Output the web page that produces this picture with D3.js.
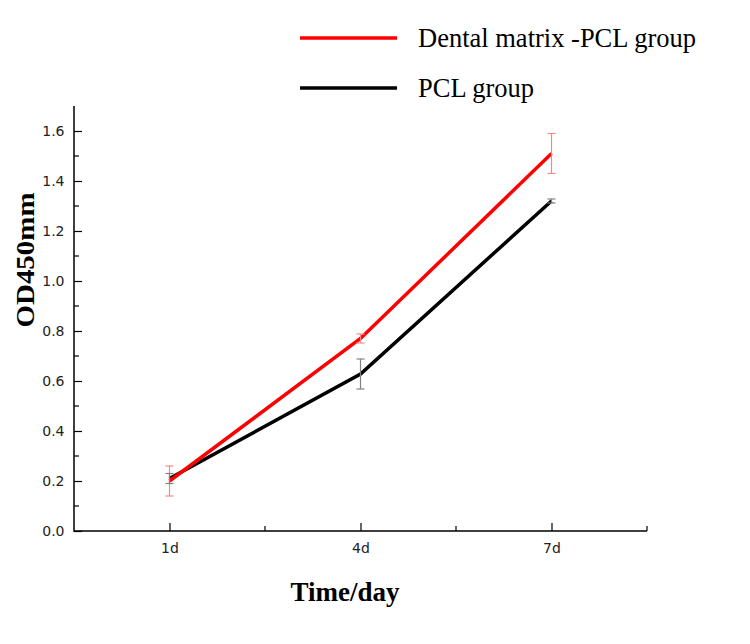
<!DOCTYPE html>
<html>
<head>
<meta charset="utf-8">
<script src="https://cdn.jsdelivr.net/npm/d3@7"></script>
<style>
body { margin: 0; background: #fff; }
</style>
</head>
<body>
<div id="chart"></div>
<script>
// data
var days = ["1d", "4d", "7d"];
var seriesNames = ["Dental matrix -PCL group", "PCL group"];
var dentalMean = [0.20, 0.77, 1.51];
var dentalErr = [0.06, 0.018, 0.08];
var pclMean = [0.21, 0.628, 1.32];
var pclErr = [0.02, 0.06, 0.008];
var yTicks = [0, 0.2, 0.4, 0.6, 0.8, 1.0, 1.2, 1.4, 1.6];

var w = 750, h = 644;
var svg = d3.select('#chart').append('svg')
	.attr('width', w)
	.attr('height', h);

// x as index, half a step padding on each side
var x = d3.scaleLinear().domain([-0.5, 2.5]).range([74, 647]);
var y = d3.scaleLinear().domain([0, 1.7]).range([531, 106]);

var series = [
	{name: seriesNames[0], mean: dentalMean, err: dentalErr, color: '#ff0000', errColor: '#f08a8a'},
	{name: seriesNames[1], mean: pclMean, err: pclErr, color: '#000000', errColor: '#808080'}
];

// minor ticks
var g = svg.append('g');
d3.range(0, 17).forEach(function(i){
	if (i % 2 == 0) return;
	var v = i / 10;
	g.append('line')
		.attr('x1', x(-0.5)).attr('x2', x(-0.5) + 5)
		.attr('y1', y(v)).attr('y2', y(v))
		.attr('stroke', '#000').attr('stroke-width', 1.2);
});
[0.5, 1.5, 2.5].forEach(function(v){
	g.append('line')
		.attr('x1', x(v)).attr('x2', x(v))
		.attr('y1', y(0)).attr('y2', y(0) - 5)
		.attr('stroke', '#000').attr('stroke-width', 1.2);
});

// y axis, ticks pointing inward
var yAxis = svg.append('g')
	.attr('transform', 'translate(' + x(-0.5) + ',0)')
	.call(d3.axisRight(y).tickValues(yTicks).tickSize(8).tickFormat(d3.format('.1f')));
yAxis.select('.domain').remove();
yAxis.selectAll('line').attr('stroke-width', 1.2);
yAxis.selectAll('text')
	.attr('x', -9.5)
	.attr('text-anchor', 'end')
	.style('font-family', 'DejaVu Sans, sans-serif')
	.style('font-size', '14px')
	.attr('fill', '#222');

// x axis, ticks pointing up
var xAxis = svg.append('g')
	.attr('transform', 'translate(0,' + y(0) + ')')
	.call(d3.axisTop(x).tickValues([0, 1, 2]).tickSize(8).tickFormat(function(d){ return days[d]; }));
xAxis.select('.domain').remove();
xAxis.selectAll('line').attr('stroke-width', 1.2);
xAxis.selectAll('text')
	.attr('y', 22)
	.attr('dy', 0)
	.style('font-family', 'DejaVu Sans, sans-serif')
	.style('font-size', '14px')
	.attr('fill', '#222');

// axis lines
svg.append('path')
	.attr('d', 'M' + x(-0.5) + ',' + y(1.7) + 'V' + y(0) + 'H' + x(2.5))
	.attr('fill', 'none')
	.attr('stroke', '#000')
	.attr('stroke-width', 1.5);

// lines
var line = d3.line()
	.x(function(d, i){ return x(i); })
	.y(function(d){ return y(d); });

series.slice().reverse().forEach(function(s){
	svg.append('path')
		.datum(s.mean)
		.attr('d', line)
		.attr('fill', 'none')
		.attr('stroke', s.color)
		.attr('stroke-width', 3.5);
});

// error bars
series.forEach(function(s){
	var eb = svg.append('g');
	s.mean.forEach(function(m, i){
		var lo = y(m - s.err[i]), hi = y(m + s.err[i]);
		eb.append('line').attr('x1', x(i)).attr('x2', x(i)).attr('y1', lo).attr('y2', hi);
		eb.append('line').attr('x1', x(i) - 4).attr('x2', x(i) + 4).attr('y1', lo).attr('y2', lo);
		eb.append('line').attr('x1', x(i) - 4).attr('x2', x(i) + 4).attr('y1', hi).attr('y2', hi);
	});
	eb.selectAll('line').attr('stroke', s.errColor).attr('stroke-width', 1.2);
});

// axis titles
svg.append('text')
	.attr('x', 345)
	.attr('y', 601)
	.attr('text-anchor', 'middle')
	.style('font-family', 'Liberation Serif, Times New Roman, serif')
	.style('font-weight', 'bold')
	.style('font-size', '27px')
	.text('Time/day');

svg.append('text')
	.attr('transform', 'translate(34,260) rotate(-90)')
	.attr('text-anchor', 'middle')
	.attr('textLength', 135)
	.attr('lengthAdjust', 'spacingAndGlyphs')
	.style('font-family', 'Liberation Serif, Times New Roman, serif')
	.style('font-weight', 'bold')
	.style('font-size', '26px')
	.text('OD450mm');

// legend
var legend = svg.append('g');
series.forEach(function(s, i){
	var ly = 38 + i * 50;
	legend.append('line')
		.attr('x1', 300).attr('x2', 397)
		.attr('y1', ly).attr('y2', ly)
		.attr('stroke', s.color)
		.attr('stroke-width', 3.5);
	legend.append('text')
		.attr('x', 418)
		.attr('y', ly + 9)
		.style('font-family', 'Liberation Serif, Times New Roman, serif')
		.style('font-size', '26.5px')
		.text(s.name);
});
</script>
</body>
</html>
